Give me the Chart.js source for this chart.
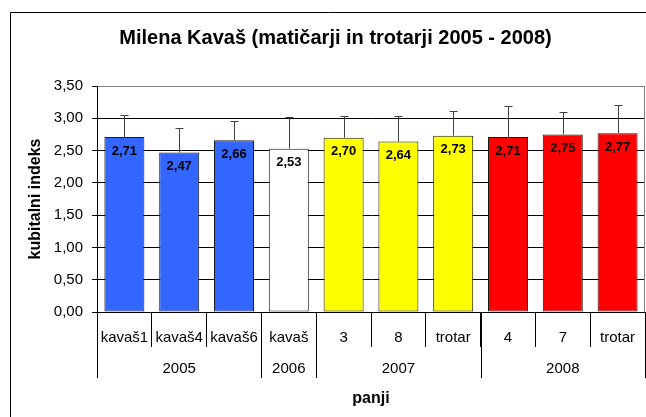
<!DOCTYPE html>
<html>
<head>
<meta charset="utf-8">
<script src="https://cdn.jsdelivr.net/npm/chart.js@4.4.1/dist/chart.umd.min.js"></script>
<style>
  body { margin: 0; background: #fff; }
  #okvir { width: 646px; height: 417px; position: relative; }
</style>
</head>
<body>
<div id="okvir"><canvas id="myChart"></canvas></div>
<script>
const panji = ['kavaš1', 'kavaš4', 'kavaš6', 'kavaš', '3', '8', 'trotar', '4', '7', 'trotar'];
const letoPanja = ['2005', '2005', '2005', '2006', '2007', '2007', '2007', '2008', '2008', '2008'];
const leta = ['2005', '2006', '2007', '2008'];
const barveLet = ['#3366ff', '#ffffff', '#ffff00', '#ff0000'];
const indeks = [2.71, 2.47, 2.66, 2.53, 2.70, 2.64, 2.73, 2.71, 2.75, 2.77];
const napaka = [0.34, 0.38, 0.30, 0.49, 0.34, 0.40, 0.39, 0.48, 0.35, 0.43];
const yMin = 0, yMax = 3.5, yKorak = 0.5;

Chart.defaults.font.family = '"Liberation Sans", Arial, sans-serif';
Chart.defaults.color = '#000';

function vejica(v) {
    return Number(v).toFixed(2).replace('.', ',');
}

const risba = {
    id: 'risba',
    beforeDraw(chart) {
        const ctx = chart.ctx;
        ctx.save();
        ctx.strokeStyle = '#000';
        ctx.lineWidth = 1;
        ctx.beginPath();
        ctx.moveTo(10.5, chart.height);
        ctx.lineTo(10.5, 12.5);
        ctx.lineTo(chart.width, 12.5);
        ctx.stroke();
        ctx.restore();
    },
    afterDatasetsDraw(chart) {
        const { ctx, chartArea: a, scales: { x, y } } = chart;
        const meta = chart.getDatasetMeta(0);
        ctx.save();
        // okvir risalne ploskve (desno)
        ctx.strokeStyle = '#808080';
        ctx.lineWidth = 1;
        ctx.beginPath();
        ctx.moveTo(Math.round(a.right) - 0.5, a.top);
        ctx.lineTo(Math.round(a.right) - 0.5, a.bottom);
        ctx.stroke();

        // napake (samo navzgor)
        ctx.strokeStyle = '#404040';
        meta.data.forEach((bar, i) => {
            const xp = Math.round(bar.x) + 0.5;
            const yTop = Math.round(y.getPixelForValue(indeks[i] + napaka[i])) + 0.5;
            ctx.beginPath();
            ctx.moveTo(xp, bar.y);
            ctx.lineTo(xp, yTop);
            ctx.moveTo(xp - 4, yTop);
            ctx.lineTo(xp + 4, yTop);
            ctx.stroke();
        });

        // vrednosti
        ctx.fillStyle = '#000';
        ctx.font = 'bold 13px "Liberation Sans", Arial, sans-serif';
        ctx.textAlign = 'center';
        ctx.textBaseline = 'middle';
        meta.data.forEach((bar, i) => {
            ctx.fillText(vejica(indeks[i]), bar.x, bar.y + 14);
        });

        // leta pod kategorijami
        const w = x.getPixelForValue(1) - x.getPixelForValue(0);
        ctx.strokeStyle = '#000';
        ctx.font = '15px "Liberation Sans", Arial, sans-serif';
        leta.forEach(leto => {
            const prvi = letoPanja.indexOf(leto);
            const zadnji = letoPanja.lastIndexOf(leto);
            const levo = x.getPixelForValue(prvi) - w / 2;
            const desno = x.getPixelForValue(zadnji) + w / 2;
            [levo, desno].forEach(px => {
                const xp = Math.round(px) + 0.5;
                ctx.beginPath();
                ctx.moveTo(xp, a.bottom);
                ctx.lineTo(xp, a.bottom + 66);
                ctx.stroke();
            });
            ctx.fillText(leto, (levo + desno) / 2, a.bottom + 57);
        });
        ctx.restore();
    }
};

const config = {
    type: 'bar',
    data: {
        labels: panji,
        datasets: [{
            data: indeks,
            backgroundColor: letoPanja.map(l => barveLet[leta.indexOf(l)]),
            borderColor: '#1a1a1a',
            borderWidth: 1,
            borderSkipped: false,
            barPercentage: 0.73,
            categoryPercentage: 1
        }]
    },
    options: {
        responsive: true,
        maintainAspectRatio: false,
        animation: false,
        layout: { padding: { left: 26, right: 1, top: 12, bottom: 0 } },
        plugins: {
            legend: { display: false },
            tooltip: { enabled: false },
            title: {
                display: true,
                text: 'Milena Kavaš (matičarji in trotarji 2005 - 2008)',
                font: { size: 20, weight: 'bold' },
                color: '#000',
                padding: { top: 14, bottom: 36 }
            }
        },
        scales: {
            x: {
                afterFit: s => { s.height = 105; },
                grid: {
                    offset: true,
                    drawOnChartArea: false,
                    drawTicks: true,
                    tickLength: 35,
                    color: '#000'
                },
                border: { color: '#000' },
                ticks: {
                    font: { size: 15 },
                    color: '#000',
                    padding: -18,
                    maxRotation: 0,
                    autoSkip: false
                },
                title: {
                    display: true,
                    text: 'panji',
                    font: { size: 16, weight: 'bold' },
                    color: '#000',
                    padding: { top: 0, bottom: 9 }
                }
            },
            y: {
                min: yMin,
                max: yMax,
                afterFit: s => { s.width = 71; },
                grid: {
                    color: c => (c.tick && c.tick.value === yMax) ? '#808080' : '#000',
                    tickLength: 5,
                    tickColor: '#000'
                },
                border: { color: '#000' },
                ticks: {
                    stepSize: yKorak,
                    font: { size: 15 },
                    color: '#000',
                    padding: 9,
                    callback: v => vejica(v)
                },
                title: {
                    display: true,
                    text: 'kubitalni indeks',
                    font: { size: 16, weight: 'bold' },
                    color: '#000',
                    padding: { top: 0, bottom: 0 }
                }
            }
        }
    },
    plugins: [risba]
};

new Chart(document.getElementById('myChart'), config);
</script>
</body>
</html>
